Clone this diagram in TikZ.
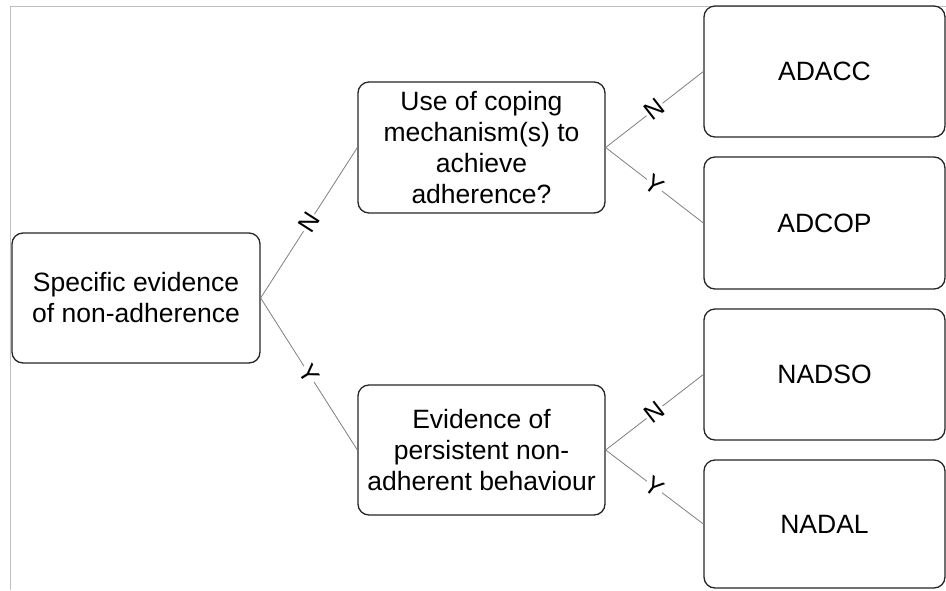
\documentclass[tikz,border=0pt]{standalone}
\usepackage{fontspec}
\setmainfont{Liberation Sans}
\begin{document}
\begin{tikzpicture}[x=1pt,y=-1pt,
  box/.style={draw=black!85, line width=1.3pt, rounded corners=11pt, align=center,
    font=\fontsize{26.5}{31}\selectfont, inner sep=0pt},
  link/.style={draw=black!50, line width=0.8pt},
  lab/.style={sloped, fill=white, inner sep=1pt, font=\fontsize{25}{25}\selectfont}]
\useasboundingbox (0,0) rectangle (946,590);
\fill[white] (0,0) rectangle (946,590);
\draw[black!25, line width=0.8pt] (946,6) -- (10,6) -- (10,590);
\node[box, minimum width=248, minimum height=130] (root) at (136,298) {Specific evidence\\of non-adherence};
\node[box, minimum width=247, minimum height=131] (cope) at (481.5,147.5) {Use of coping\\mechanism(s) to\\achieve\\adherence?};
\node[box, minimum width=247, minimum height=130] (evid) at (481.5,450) {Evidence of\\persistent non-\\adherent behaviour};
\node[box, minimum width=241, minimum height=131] (adacc) at (824.5,71.5) {ADACC};
\node[box, minimum width=241, minimum height=132] (adcop) at (824.5,223) {ADCOP};
\node[box, minimum width=241, minimum height=131] (nadso) at (824.5,374.5) {NADSO};
\node[box, minimum width=241, minimum height=128] (nadal) at (824.5,524) {NADAL};
\draw[link] (root.east) -- node[lab] {N} (cope.west);
\draw[link] (root.east) -- node[lab] {Y} (evid.west);
\draw[link] (cope.east) -- node[lab] {N} (adacc.west);
\draw[link] (cope.east) -- node[lab] {Y} (adcop.west);
\draw[link] (evid.east) -- node[lab] {N} (nadso.west);
\draw[link] (evid.east) -- node[lab] {Y} (nadal.west);
\end{tikzpicture}
\end{document}
